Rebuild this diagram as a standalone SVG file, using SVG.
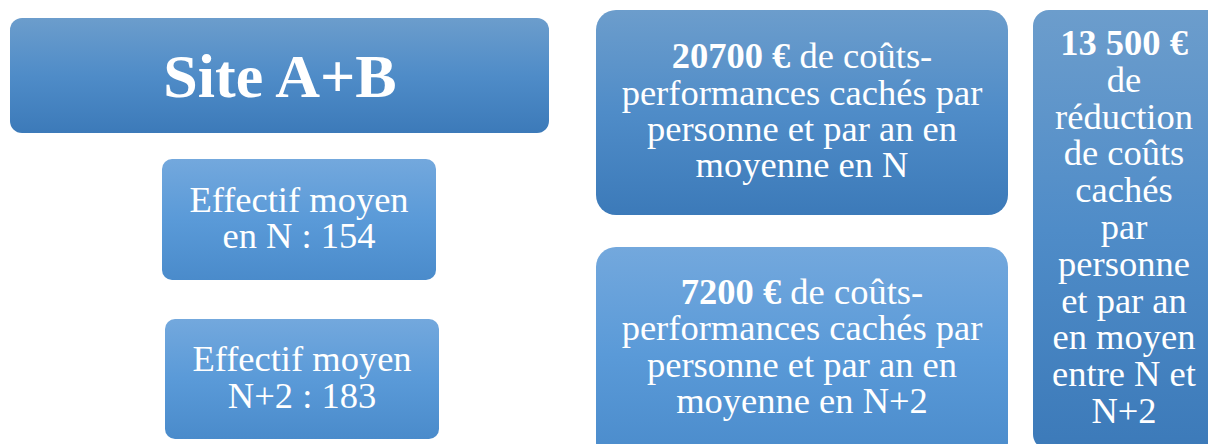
<svg xmlns="http://www.w3.org/2000/svg" width="1208" height="444" viewBox="0 0 1208 444">
<defs>
<linearGradient id="gDark" x1="0" y1="0" x2="0" y2="1">
<stop offset="0" stop-color="#6c9dcc"/>
<stop offset="0.5" stop-color="#4f8cc8"/>
<stop offset="1" stop-color="#3c7ab9"/>
</linearGradient>
<linearGradient id="gLight" x1="0" y1="0" x2="0" y2="1">
<stop offset="0" stop-color="#73a8dd"/>
<stop offset="0.5" stop-color="#5a9ad8"/>
<stop offset="1" stop-color="#4a8bcb"/>
</linearGradient>
<style>
text{font-family:"Liberation Serif","Times New Roman",serif;fill:#ffffff;text-anchor:middle;font-size:36.5px}
.b{font-weight:bold}
.dark{fill:url(#gDark)}
.light{fill:url(#gLight)}
</style>
</defs>
<rect width="1208" height="444" fill="#ffffff"/>
<g id="site">
<rect class="dark" x="10" y="18" width="539" height="115" rx="12"/>
<text x="280" y="97" class="b" style="font-size:62px">Site A+B</text>
</g>
<g id="effectif-n">
<rect class="light" x="162" y="159" width="274" height="121" rx="10"/>
<text x="299" y="212">Effectif moyen</text>
<text x="299" y="248">en N : 154</text>
</g>
<g id="effectif-n2">
<rect class="light" x="165" y="319" width="274" height="120" rx="10"/>
<text x="302" y="371">Effectif moyen</text>
<text x="302" y="408">N+2 : 183</text>
</g>
<g id="couts-n">
<rect class="dark" x="596" y="10" width="412" height="205" rx="20"/>
<text x="802" y="68"><tspan class="b">20700 €</tspan> de coûts-</text>
<text x="802" y="105">performances cachés par</text>
<text x="802" y="141">personne et par an en</text>
<text x="802" y="177">moyenne en N</text>
</g>
<g id="couts-n2">
<rect class="light" x="596" y="247" width="412" height="215" rx="20"/>
<text x="802" y="304"><tspan class="b">7200 €</tspan> de coûts-</text>
<text x="802" y="340">performances cachés par</text>
<text x="802" y="377">personne et par an en</text>
<text x="802" y="413">moyenne en N+2</text>
</g>
<g id="reduction">
<rect class="dark" x="1033" y="10" width="190" height="440" rx="16"/>
<text x="1124" y="55" class="b">13 500 €</text>
<text x="1124" y="91.8">de</text>
<text x="1124" y="128.6">réduction</text>
<text x="1124" y="165.4">de coûts</text>
<text x="1124" y="202.2">cachés</text>
<text x="1124" y="239">par</text>
<text x="1124" y="275.8">personne</text>
<text x="1124" y="312.6">et par an</text>
<text x="1124" y="349.4">en moyen</text>
<text x="1124" y="386.2">entre N et</text>
<text x="1124" y="423">N+2</text>
</g>
<g id="connectors"/>
</svg>
